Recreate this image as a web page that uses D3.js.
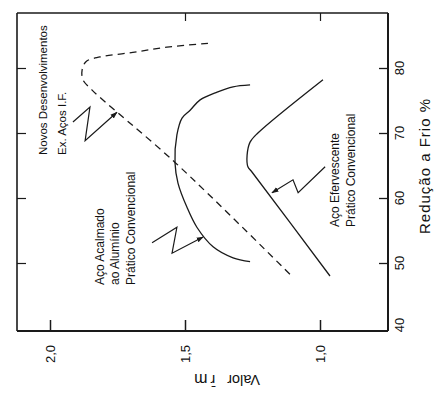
<!DOCTYPE html>
<html>
<head>
<meta charset="utf-8">
<script src="https://cdn.jsdelivr.net/npm/d3@7"></script>
<style>
  html, body { margin: 0; padding: 0; background: #fff; }
  svg { display: block; }
  text { font-family: "Liberation Sans", Arial, sans-serif; fill: #111; }
</style>
</head>
<body>
<svg id="chart" width="443" height="404"></svg>
<script>
// ---- data ----
const valorTicks = [2.0, 1.5, 1.0];
const valorTickLabels = ["2,0", "1,5", "1,0"];
const reducaoTicks = [40, 50, 60, 70, 80];
const reducaoTickLabels = ["40", "50", "60", "70", "80"];

// Aço Acalmado ao Alumínio – Prática Convencional (solid)
const acalmadoReducao = [77.4, 77.1, 76.3, 75.1, 73.5, 72.3, 69.7, 65.4, 62.3, 58.6, 55.5, 52.5, 50.8, 50.2];
const acalmadoValor   = [1.259, 1.322, 1.381, 1.444, 1.481, 1.511, 1.530, 1.537, 1.526, 1.493, 1.456, 1.396, 1.322, 1.259];

// Novos Desenvolvimentos – Ex. Aços I.F. (dashed)
const novosReducao = [83.8, 83.2, 82.4, 81.7, 81.0, 79.7, 78.2, 76.6, 65.4, 47.8];
const novosValor   = [1.415, 1.567, 1.693, 1.815, 1.866, 1.881, 1.878, 1.844, 1.535, 1.100];

// Aço Efervescente – Prática Convencional (solid)
const efervReducao = [78.2, 70.0, 68.6, 66.6, 64.8, 64.0, 48.0];
const efervValor   = [0.989, 1.230, 1.259, 1.270, 1.267, 1.252, 0.963];

// zig-zag pointers (data coordinates)
const arrowNovosReducao = [71.7, 74.0, 68.8, 73.2];
const arrowNovosValor   = [1.915, 1.852, 1.870, 1.752];
const arrowAcalReducao  = [53.1, 55.5, 51.5, 54.0];
const arrowAcalValor    = [1.622, 1.530, 1.548, 1.433];
const arrowEferReducao  = [64.8, 60.8, 62.8, 60.8];
const arrowEferValor    = [0.981, 1.081, 1.100, 1.178];

const labelNovos = ["Novos Desenvolvimentos", "Ex. Aços I.F."];
const labelAcalmado = ["Aço  Acalmado", "ao  Alumínio", "Prático  Convencional"];
const labelEferv = ["Aço  Efervescente", "Prático  Convencional"];
const axisTitleValorParts = ["Valor", "r\u0304", "m"];
const axisTitleReducao = "Redução  a  Frio  %";

// ---- layout ----
const svg = d3.select("#chart");
const L = 17, R = 388, T = 13, B = 331;

// Valor (horizontal, reversed), Redução (vertical)
const x = d3.scaleLinear().domain([2.0, 1.0]).range([50, 320]);
const y = d3.scaleLinear().domain([40, 80]).range([328, 68]);

const ink = "#1a1a1a";

// frame
svg.append("line").attr("x1", L).attr("y1", T).attr("x2", L).attr("y2", B).attr("stroke", ink).attr("stroke-width", 1.6);
svg.append("line").attr("x1", L).attr("y1", T).attr("x2", R).attr("y2", T).attr("stroke", ink).attr("stroke-width", 1.4);
svg.append("line").attr("x1", R).attr("y1", T).attr("x2", R).attr("y2", B).attr("stroke", ink).attr("stroke-width", 2);
svg.append("line").attr("x1", L).attr("y1", B).attr("x2", R).attr("y2", B).attr("stroke", ink).attr("stroke-width", 2);

// bottom axis (Valor) – ticks inward
const axB = svg.append("g").attr("transform", `translate(0,${B})`)
  .call(d3.axisBottom(x).tickValues(valorTicks).tickSize(-11).tickFormat(""));
axB.select(".domain").remove();
axB.selectAll(".tick line").attr("stroke", ink).attr("stroke-width", 1.5);

// top mirrored ticks
const axT = svg.append("g").attr("transform", `translate(0,${T})`)
  .call(d3.axisTop(x).tickValues(valorTicks.slice(1)).tickSize(-8).tickFormat(""));
axT.select(".domain").remove();
axT.selectAll(".tick line").attr("stroke", ink).attr("stroke-width", 1.2);

// right axis (Redução) – ticks inward
const axR = svg.append("g").attr("transform", `translate(${R},0)`)
  .call(d3.axisRight(y).tickValues(reducaoTicks.slice(1)).tickSize(-9).tickFormat(""));
axR.select(".domain").remove();
axR.selectAll(".tick line").attr("stroke", ink).attr("stroke-width", 1.3);

// left mirrored ticks
const axL = svg.append("g").attr("transform", `translate(${L},0)`)
  .call(d3.axisLeft(y).tickValues(reducaoTicks.slice(1)).tickSize(-9).tickFormat(""));
axL.select(".domain").remove();
axL.selectAll(".tick line").attr("stroke", ink).attr("stroke-width", 1.2);

// tick labels
svg.append("g").selectAll("text").data(valorTicks).join("text")
  .attr("transform", (d) => `translate(${x(d)},354) rotate(-90)`)
  .attr("text-anchor", "middle").attr("dominant-baseline", "central")
  .attr("font-size", 13)
  .text((d, i) => valorTickLabels[i]);

svg.append("g").selectAll("text").data(reducaoTicks).join("text")
  .attr("transform", (d) => `translate(399,${d === 40 ? y(d) - 3 : y(d)}) rotate(-90)`)
  .attr("text-anchor", "middle").attr("dominant-baseline", "central")
  .attr("font-size", 13)
  .text((d, i) => reducaoTickLabels[i]);

// axis titles
const vt = svg.append("text")
  .attr("transform", "translate(260,380) rotate(180)")
  .attr("text-anchor", "start").attr("dominant-baseline", "central")
  .attr("font-size", 14.5);
vt.append("tspan").text(axisTitleValorParts[0]);
vt.append("tspan").attr("dx", 12).text(axisTitleValorParts[1]);
vt.append("tspan").attr("dx", 3).attr("font-size", 16).text(axisTitleValorParts[2]);

svg.append("text")
  .attr("transform", "translate(424,166) rotate(-90)")
  .attr("text-anchor", "middle").attr("dominant-baseline", "central")
  .attr("font-size", 15).attr("letter-spacing", 1)
  .text(axisTitleReducao);

// curves
const line = d3.line().x((d) => x(d[1])).y((d) => y(d[0])).curve(d3.curveCatmullRom.alpha(0.5));
const zip = (a, b) => a.map((v, i) => [v, b[i]]);

svg.append("path").datum(zip(acalmadoReducao, acalmadoValor))
  .attr("d", line).attr("fill", "none").attr("stroke", ink).attr("stroke-width", 1.3);
svg.append("path").datum(zip(efervReducao, efervValor))
  .attr("d", line).attr("fill", "none").attr("stroke", ink).attr("stroke-width", 1.3);
svg.append("path").datum(zip(novosReducao, novosValor))
  .attr("d", line).attr("fill", "none").attr("stroke", ink).attr("stroke-width", 1.3)
  .attr("stroke-dasharray", "7,5");

// arrowheads
svg.append("defs").append("marker")
  .attr("id", "ah").attr("viewBox", "0 0 10 10").attr("refX", 9).attr("refY", 5)
  .attr("markerWidth", 6).attr("markerHeight", 6).attr("orient", "auto")
  .append("path").attr("d", "M0,1.5 L10,5 L0,8.5 Z").attr("fill", ink);

const zz = d3.line().x((d) => x(d[1])).y((d) => y(d[0]));
[[arrowNovosReducao, arrowNovosValor], [arrowAcalReducao, arrowAcalValor], [arrowEferReducao, arrowEferValor]]
  .forEach(([r, v]) => {
    svg.append("path").datum(zip(r, v)).attr("d", zz)
      .attr("fill", "none").attr("stroke", ink).attr("stroke-width", 1.2)
      .attr("marker-end", "url(#ah)");
  });

// annotation labels (rotated)
function labelBlock(lines, xs, yStart, fs) {
  lines.forEach((t, i) => {
    svg.append("text")
      .attr("transform", `translate(${xs[i]},${yStart}) rotate(-90)`)
      .attr("text-anchor", "start").attr("dominant-baseline", "central")
      .attr("font-size", fs)
      .text(t);
  });
}
labelBlock(labelNovos, [43, 62], 155, 11.5);
labelBlock(labelAcalmado, [100, 115, 131], 285, 12);
labelBlock(labelEferv, [335, 351], 227, 12);
</script>
</body>
</html>
